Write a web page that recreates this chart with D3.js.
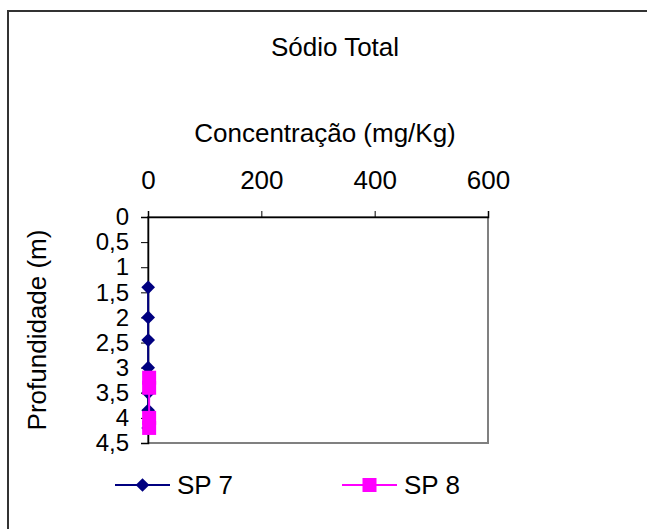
<!DOCTYPE html>
<html>
<head>
<meta charset="utf-8">
<script src="https://cdn.jsdelivr.net/npm/d3@7"></script>
<style>
  body { margin: 0; background: #fff; }
  svg text { font-family: "Liberation Sans", Arial, sans-serif; fill: #000; }
</style>
</head>
<body>
<div id="chart"></div>
<script>
const title = "Sódio Total";
const xTitle = "Concentração (mg/Kg)";
const yTitle = "Profundidade (m)";

const xTicks = [0, 200, 400, 600];
const yTicks = [0, 0.5, 1, 1.5, 2, 2.5, 3, 3.5, 4, 4.5];

const sp7Depth = [1.4, 2.0, 2.45, 3.0, 3.5, 3.85, 4.2];
const sp7Value = [0.3, 0.3, 0.3, 0.3, 0.3, 0.3, 0.3];
const sp8Depth = [3.2, 3.4, 4.0, 4.2];
const sp8Value = [2, 2, 2, 2];

const series = [
  {name: "SP 7", color: "#000080", marker: "diamond",
   points: sp7Depth.map((d, i) => ({depth: d, value: sp7Value[i]}))},
  {name: "SP 8", color: "#FF00FF", marker: "square",
   points: sp8Depth.map((d, i) => ({depth: d, value: sp8Value[i]}))}
];

const width = 647, height = 529;
const plot = {left: 148, right: 488, top: 217, bottom: 443};
const fontSize = 26;

const svg = d3.select("#chart")
  .append("svg")
  .attr("width", width)
  .attr("height", height);

// chart area border (only top/left fall inside the window)
svg.append("rect")
  .attr("x", 8).attr("y", 11)
  .attr("width", 700).attr("height", 600)
  .attr("fill", "none")
  .attr("stroke", "#333")
  .attr("stroke-width", 2);

const x = d3.scaleLinear().domain([0, 600]).range([plot.left, plot.right]);
const y = d3.scaleLinear().domain([0, 4.5]).range([plot.top, plot.bottom]);

// plot area frame
svg.append("rect")
  .attr("x", plot.left).attr("y", plot.top)
  .attr("width", plot.right - plot.left)
  .attr("height", plot.bottom - plot.top)
  .attr("fill", "none")
  .attr("stroke", "#808080")
  .attr("stroke-width", 2);

const xAxis = svg.append("g")
  .attr("transform", `translate(0, ${plot.top})`)
  .call(d3.axisTop(x).tickValues(xTicks).tickSize(6).tickPadding(22).tickFormat(d3.format("d")));

const yAxis = svg.append("g")
  .attr("transform", `translate(${plot.left}, 0)`)
  .call(d3.axisLeft(y).tickValues(yTicks).tickSize(7).tickPadding(12)
    .tickFormat(d => String(d).replace(".", ",")));

[xAxis, yAxis].forEach(axis => {
  axis.select(".domain").attr("stroke", "#000").attr("stroke-width", 1.5);
  axis.selectAll(".tick line").attr("stroke", "#000");
  axis.selectAll(".tick text")
    .attr("font-family", "Liberation Sans, Arial, sans-serif")
    .attr("fill", "#000");
});
xAxis.selectAll(".tick text").attr("font-size", fontSize);
// y labels sit 25px apart, a touch smaller so they don't collide
yAxis.selectAll(".tick text").attr("font-size", 24);

const diamond = d3.symbol().type(d3.symbolDiamond2).size(120);

const drawMarker = (g, s, cx, cy) => {
  if (s.marker === "diamond") {
    g.append("path")
      .attr("d", diamond())
      .attr("transform", `translate(${cx}, ${cy})`)
      .attr("fill", s.color);
  } else {
    g.append("rect")
      .attr("x", cx - 7).attr("y", cy - 7)
      .attr("width", 14).attr("height", 14)
      .attr("fill", s.color);
  }
};

const line = d3.line()
  .x(p => x(p.value))
  .y(p => y(p.depth));

series.forEach(s => {
  const g = svg.append("g");
  g.append("path")
    .attr("d", line(s.points))
    .attr("fill", "none")
    .attr("stroke", s.color)
    .attr("stroke-width", 2);
  s.points.forEach(p => drawMarker(g, s, x(p.value), y(p.depth)));
});

// titles
svg.append("text")
  .attr("x", 335).attr("y", 56)
  .attr("text-anchor", "middle")
  .attr("font-size", fontSize)
  .text(title);

svg.append("text")
  .attr("x", 325).attr("y", 142)
  .attr("text-anchor", "middle")
  .attr("font-size", fontSize)
  .text(xTitle);

svg.append("text")
  .attr("transform", `translate(46, 330) rotate(-90)`)
  .attr("text-anchor", "middle")
  .attr("font-size", fontSize)
  .text(yTitle);

// legend
const legendX = [115, 342];
series.forEach((s, i) => {
  const g = svg.append("g").attr("transform", `translate(${legendX[i]}, 485)`);
  g.append("line")
    .attr("x1", 0).attr("x2", 55)
    .attr("stroke", s.color)
    .attr("stroke-width", 2);
  drawMarker(g, s, 27.5, 0);
  g.append("text")
    .attr("x", 62).attr("y", 9)
    .attr("font-size", fontSize)
    .text(s.name);
});
</script>
</body>
</html>
